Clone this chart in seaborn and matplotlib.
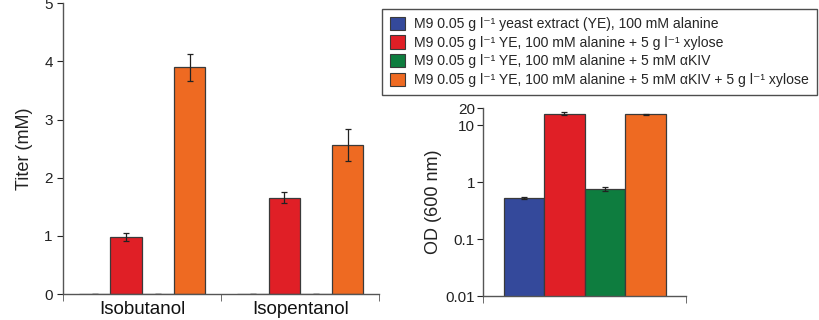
import numpy as np
import pandas as pd
import matplotlib.pyplot as plt
import seaborn as sns
from matplotlib.patches import Patch
from matplotlib.ticker import FixedLocator, NullLocator

sns.set_style("ticks")
plt.rcParams['font.family'] = ['Liberation Sans', 'DejaVu Sans']

conditions = [
    "M9 0.05 g l⁻¹ yeast extract (YE), 100 mM alanine",
    "M9 0.05 g l⁻¹ YE, 100 mM alanine + 5 g l⁻¹ xylose",
    "M9 0.05 g l⁻¹ YE, 100 mM alanine + 5 mM αKIV",
    "M9 0.05 g l⁻¹ YE, 100 mM alanine + 5 mM αKIV + 5 g l⁻¹ xylose",
]
colors = ["#34499B", "#E01F26", "#0E7D3F", "#EE6A22"]

products = ["Isobutanol", "Isopentanol"]
titer_isobutanol = [0.0, 0.98, 0.0, 3.90]
titer_isobutanol_err = [0.0, 0.07, 0.0, 0.23]
titer_isopentanol = [0.0, 1.66, 0.0, 2.56]
titer_isopentanol_err = [0.0, 0.09, 0.0, 0.27]

od_values = [0.53, 16.0, 0.75, 15.5]
od_err = [0.02, 1.2, 0.06, 0.4]

titer = pd.DataFrame({
    "product": [products[0]] * 4 + [products[1]] * 4,
    "condition": conditions * 2,
    "titer": titer_isobutanol + titer_isopentanol,
    "err": titer_isobutanol_err + titer_isopentanol_err,
})
od = pd.DataFrame({"group": ["OD"] * 4, "condition": conditions,
                   "od": od_values, "err": od_err})

fig = plt.figure(figsize=(8.19, 3.2), dpi=100)
ax1 = fig.add_axes([0.077, 0.081, 0.386, 0.909])
ax2 = fig.add_axes([0.590, 0.075, 0.248, 0.5875])
ax2.set_yscale("log")

edge = "#3a3a3a"
sns.barplot(data=titer, x="product", y="titer", hue="condition", hue_order=conditions,
            palette=colors, errorbar=None, width=0.8, edgecolor=edge, linewidth=0.9,
            saturation=1, legend=False, ax=ax1)
for cont, cond in zip(ax1.containers, conditions):
    sub = titer[titer["condition"] == cond]
    xs = [b.get_x() + b.get_width() / 2 for b in cont]
    ax1.errorbar(xs, sub["titer"], yerr=sub["err"], fmt="none", ecolor="#222222",
                 elinewidth=0.9, capsize=2, capthick=0.9)

sns.barplot(data=od, x="group", y="od", hue="condition", hue_order=conditions,
            palette=colors, errorbar=None, width=0.8, edgecolor=edge, linewidth=0.9,
            saturation=1, legend=False, ax=ax2)
for cont, cond in zip(ax2.containers, conditions):
    sub = od[od["condition"] == cond]
    xs = [b.get_x() + b.get_width() / 2 for b in cont]
    ax2.errorbar(xs, sub["od"], yerr=sub["err"], fmt="none", ecolor="#222222",
                 elinewidth=0.9, capsize=2, capthick=0.9)

# left axes
ax1.set_xlim(-0.5, 1.5)
ax1.set_ylim(0, 5)
ax1.set_yticks([0, 1, 2, 3, 4, 5])
ax1.set_xlabel("")
ax1.set_ylabel("Titer (mM)", fontsize=13, color="#222222", labelpad=8)
ax1.tick_params(axis="y", labelsize=11, length=4, colors="#222222")
ax1.tick_params(axis="x", which="major", length=0, labelsize=13.5, pad=5, colors="#111111")
ax1.xaxis.set_minor_locator(FixedLocator([-0.5, 0.5, 1.5]))
ax1.tick_params(axis="x", which="minor", length=5, color="#555555")
sns.despine(ax=ax1)

# right axes
ax2.set_xlim(-0.5, 0.5)
ax2.set_ylim(0.01, 20)
ax2.yaxis.set_major_locator(FixedLocator([0.01, 0.1, 1, 10, 20]))
ax2.set_yticklabels(["0.01", "0.1", "1", "10", "20"])
ax2.yaxis.set_minor_locator(NullLocator())
ax2.set_xticks([])
ax2.xaxis.set_minor_locator(FixedLocator([-0.5, 0.5]))
ax2.tick_params(axis="x", which="minor", length=5, color="#555555")
ax2.set_xlabel("")
ax2.set_ylabel("OD (600 nm)", fontsize=13, color="#222222", labelpad=2)
ax2.tick_params(axis="y", labelsize=11, length=4, colors="#222222", pad=2)
sns.despine(ax=ax2)

for ax in (ax1, ax2):
    for s in ("left", "bottom"):
        ax.spines[s].set_color("#555555")
        ax.spines[s].set_linewidth(1.0)

handles = [Patch(facecolor=c, edgecolor=edge, linewidth=0.8) for c in colors]
leg = fig.legend(handles, conditions, loc="upper left", bbox_to_anchor=(0.4665, 0.972),
                 frameon=True, fancybox=False, fontsize=10.05, handlelength=1.1,
                 handleheight=1.1, handletextpad=0.65, labelspacing=0.3,
                 borderpad=0.55, borderaxespad=0.0, edgecolor="#222222")
leg.get_frame().set_linewidth(1.0)

fig.savefig("out.png", dpi=100)
